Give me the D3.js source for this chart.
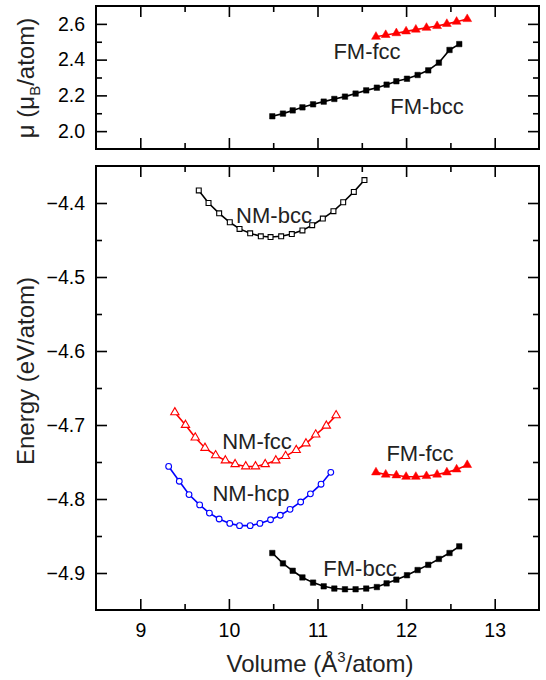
<!DOCTYPE html>
<html><head><meta charset="utf-8">
<script src="https://cdn.jsdelivr.net/npm/d3@7"></script>
<style>
body{margin:0;background:#fff;}
svg text{font-family:"Liberation Sans",Arial,sans-serif;}
</style></head>
<body><svg id="c" width="546" height="680"></svg>
<script>
// ---- data ----
const xTicks = [9, 10, 11, 12, 13];
const xMinorTicks = [9.5, 10.5, 11.5, 12.5];
const muTicks = [2.0, 2.2, 2.4, 2.6];
const muMinorTicks = [2.1, 2.3, 2.5];
const eTicks = [-4.9, -4.8, -4.7, -4.6, -4.5, -4.4];
const eMinorTicks = [-4.85, -4.75, -4.65, -4.55, -4.45];

const fmBccVol = [10.49, 10.61, 10.72, 10.83, 10.95, 11.07, 11.19, 11.31, 11.43, 11.55, 11.67, 11.78, 11.89, 12.01, 12.13, 12.25, 12.37, 12.49, 12.60];
const fmBccMoment = [2.083, 2.098, 2.116, 2.133, 2.150, 2.165, 2.180, 2.193, 2.210, 2.228, 2.243, 2.260, 2.279, 2.293, 2.314, 2.340, 2.383, 2.454, 2.487];
const fmBccEnergy = [-4.873, -4.887, -4.897, -4.906, -4.913, -4.918, -4.921, -4.922, -4.922, -4.921, -4.919, -4.914, -4.909, -4.903, -4.896, -4.889, -4.881, -4.873, -4.864];

const fmFccVol = [11.66, 11.77, 11.89, 12.00, 12.11, 12.23, 12.35, 12.46, 12.57, 12.69];
const fmFccMoment = [2.528, 2.538, 2.548, 2.558, 2.568, 2.578, 2.588, 2.600, 2.612, 2.627];
const fmFccEnergy = [-4.764, -4.767, -4.768, -4.770, -4.770, -4.769, -4.767, -4.764, -4.760, -4.754];

const nmBccVol = [9.66, 9.77, 9.89, 10.01, 10.12, 10.24, 10.36, 10.47, 10.59, 10.71, 10.83, 10.94, 11.06, 11.18, 11.29, 11.41, 11.53];
const nmBccEnergy = [-4.383, -4.400, -4.414, -4.426, -4.435, -4.441, -4.445, -4.446, -4.445, -4.442, -4.437, -4.430, -4.421, -4.411, -4.399, -4.385, -4.369];

const nmFccVol = [9.39, 9.51, 9.62, 9.73, 9.85, 9.96, 10.07, 10.19, 10.30, 10.41, 10.53, 10.64, 10.76, 10.87, 10.98, 11.10, 11.21];
const nmFccEnergy = [-4.683, -4.700, -4.717, -4.731, -4.741, -4.748, -4.753, -4.756, -4.756, -4.753, -4.748, -4.742, -4.734, -4.725, -4.713, -4.701, -4.687];

const nmHcpVol = [9.32, 9.44, 9.55, 9.67, 9.78, 9.89, 10.01, 10.12, 10.24, 10.35, 10.47, 10.58, 10.69, 10.81, 10.92, 11.04, 11.15];
const nmHcpEnergy = [-4.756, -4.776, -4.794, -4.808, -4.819, -4.827, -4.833, -4.836, -4.836, -4.833, -4.828, -4.822, -4.814, -4.804, -4.793, -4.780, -4.764];

// ---- layout ----
const svg = d3.select("#c");
const L = 96, R = 539;
const topP = {t: 6, b: 149};
const botP = {t: 166, b: 610};

const x = d3.scaleLinear().domain([8.5, 13.5]).range([L, R]);
const yMu = d3.scaleLinear().domain([1.9, 2.7]).range([topP.b, topP.t]);
const yE = d3.scaleLinear().domain([-4.95, -4.35]).range([botP.b, botP.t]);

const MAJ = 11, MIN = 6;

function frame(y, yt, ymt, panel, labelFmt) {
  const g = svg.append("g");
  // x ticks bottom (inward) & top (inward)
  const ax = (scale, ticks, len, orient, pos) => {
    const a = (orient === "bottom" ? d3.axisBottom(scale) : orient === "top" ? d3.axisTop(scale) :
               orient === "left" ? d3.axisLeft(scale) : d3.axisRight(scale))
      .tickValues(ticks).tickSizeInner(-len).tickSizeOuter(0).tickFormat("");
    const gg = g.append("g").attr("transform", pos).call(a);
    gg.select(".domain").remove();
    gg.selectAll("line").attr("stroke", "#000").attr("stroke-width", 1.6);
    return gg;
  };
  ax(x, xTicks, MAJ, "bottom", `translate(0,${panel.b})`);
  ax(x, xMinorTicks, MIN, "bottom", `translate(0,${panel.b})`);
  ax(x, xTicks, MAJ, "top", `translate(0,${panel.t})`);
  ax(x, xMinorTicks, MIN, "top", `translate(0,${panel.t})`);
  ax(y, yt, MAJ, "left", `translate(${L},0)`);
  ax(y, ymt, MIN, "left", `translate(${L},0)`);
  ax(y, yt, MAJ, "right", `translate(${R},0)`);
  ax(y, ymt, MIN, "right", `translate(${R},0)`);
  // labels
  const lab = d3.axisLeft(y).tickValues(yt).tickSize(0).tickPadding(11).tickFormat(labelFmt);
  const lg = g.append("g").attr("transform", `translate(${L},0)`).call(lab);
  lg.select(".domain").remove();
  lg.selectAll("text").attr("font-size", 19.5).attr("fill", "#000")
    .attr("font-family", "'Liberation Sans',Arial,sans-serif");
  g.append("rect").attr("x", L).attr("y", panel.t).attr("width", R - L).attr("height", panel.b - panel.t)
    .attr("fill", "none").attr("stroke", "#000").attr("stroke-width", 2);
}

frame(yMu, muTicks, muMinorTicks, topP, d3.format(".1f"));
frame(yE, eTicks, eMinorTicks, botP, d3.format(".1f"));

// x tick labels
const xl = svg.append("g").attr("transform", `translate(0,${botP.b})`)
  .call(d3.axisBottom(x).tickValues(xTicks).tickSize(0).tickPadding(13).tickFormat(d3.format("d")));
xl.select(".domain").remove();
xl.selectAll("text").attr("font-size", 19.5).attr("fill", "#000")
  .attr("font-family", "'Liberation Sans',Arial,sans-serif");

// ---- series ----
function series(vols, vals, y, color, shape, filled, size) {
  const pts = vols.map((v, i) => [x(v), y(vals[i])]);
  svg.append("path").attr("d", d3.line()(pts)).attr("fill", "none")
    .attr("stroke", color).attr("stroke-width", 1.6);
  const sym = d3.symbol().type(shape).size(size);
  svg.append("g").selectAll("path").data(pts).join("path")
    .attr("transform", d => `translate(${d[0]},${d[1]})`)
    .attr("d", sym)
    .attr("fill", filled ? color : "#fff")
    .attr("stroke", color).attr("stroke-width", filled ? 0.5 : 1.1);
}

series(fmFccVol, fmFccMoment, yMu, "#ff0000", d3.symbolTriangle, true, 34);
series(fmBccVol, fmBccMoment, yMu, "#000", d3.symbolSquare, true, 30);

series(nmBccVol, nmBccEnergy, yE, "#000", d3.symbolSquare, false, 24);
series(nmFccVol, nmFccEnergy, yE, "#ff0000", d3.symbolTriangle, false, 30);
series(nmHcpVol, nmHcpEnergy, yE, "#0000ff", d3.symbolCircle, false, 26);
series(fmFccVol, fmFccEnergy, yE, "#ff0000", d3.symbolTriangle, true, 34);
series(fmBccVol, fmBccEnergy, yE, "#000", d3.symbolSquare, true, 30);

// ---- curve labels ----
const labels = [
  {t: "FM-fcc", x: 367, y: 59},
  {t: "FM-bcc", x: 427, y: 114},
  {t: "NM-bcc", x: 274, y: 223},
  {t: "NM-fcc", x: 257, y: 449},
  {t: "NM-hcp", x: 251, y: 501},
  {t: "FM-fcc", x: 420, y: 461},
  {t: "FM-bcc", x: 360, y: 576}
];
svg.append("g").selectAll("text").data(labels).join("text")
  .attr("x", d => d.x).attr("y", d => d.y).attr("text-anchor", "middle")
  .attr("font-size", 22).attr("fill", "#222").text(d => d.t);

// ---- axis titles ----
const xt = svg.append("text").attr("x", 320).attr("y", 672).attr("text-anchor", "middle")
  .attr("font-size", 24).attr("fill", "#222");
xt.append("tspan").text("Volume (Å");
xt.append("tspan").attr("font-size", 15).attr("dy", -10).text("3");
xt.append("tspan").attr("dy", 10).text("/atom)");

svg.append("text").attr("transform", "translate(34,371) rotate(-90)").attr("text-anchor", "middle")
  .attr("font-size", 24).attr("fill", "#222").text("Energy (eV/atom)");

const mt = svg.append("text").attr("transform", "translate(34,78) rotate(-90)").attr("text-anchor", "middle")
  .attr("font-size", 24).attr("fill", "#222");
mt.append("tspan").text("μ (μ");
mt.append("tspan").attr("font-size", 15).attr("dy", 6).text("B");
mt.append("tspan").attr("dy", -6).text("/atom)");
</script></body></html>
